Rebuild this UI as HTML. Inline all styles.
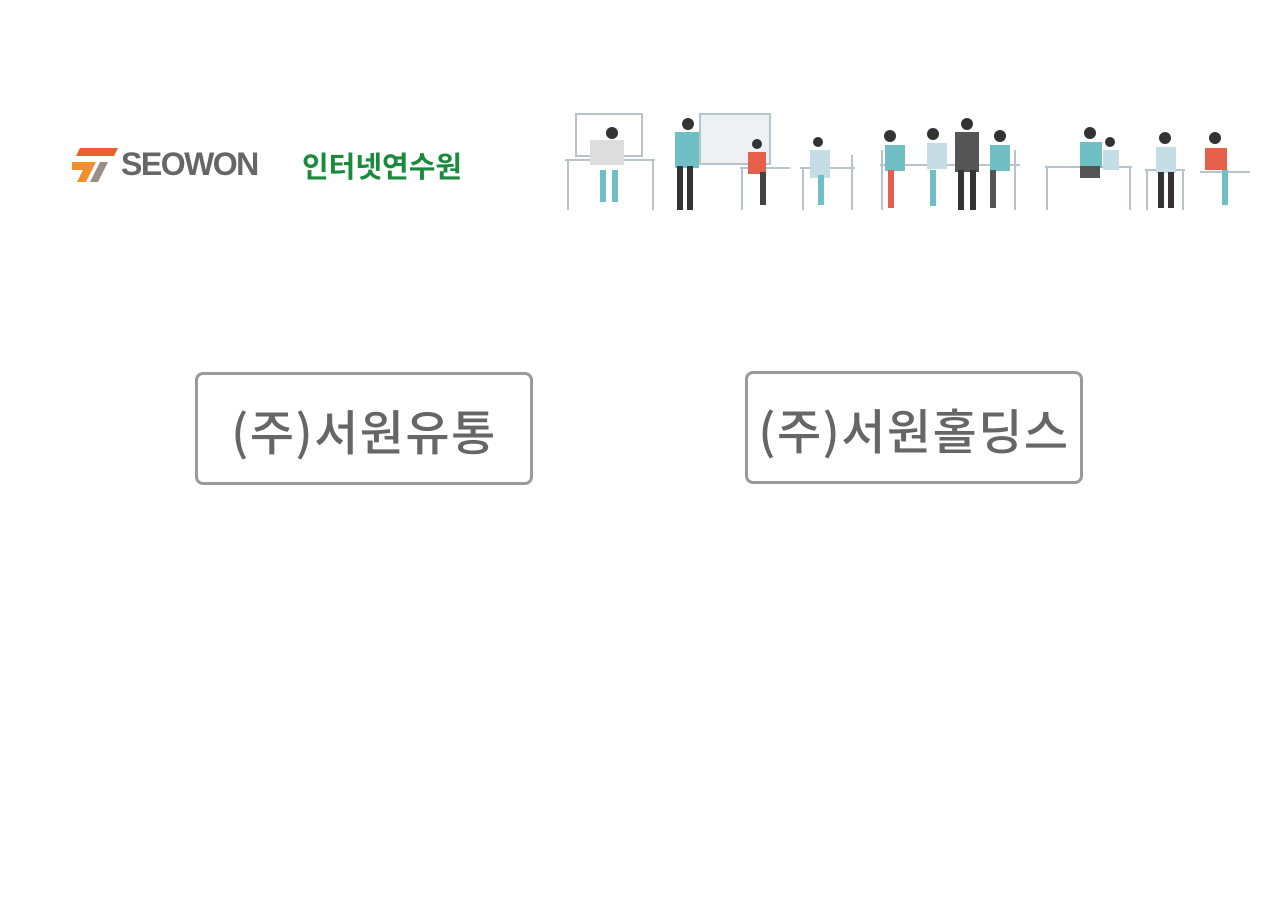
<!DOCTYPE html>
<html><head><meta charset="utf-8"><style>
body{margin:0;width:1280px;height:900px;background:#fff;position:relative;overflow:hidden;font-family:"Liberation Sans","Noto Sans CJK KR",sans-serif}
.box{position:absolute;width:332px;height:107px;border:3px solid #9a9a9a;border-radius:8px;display:flex;align-items:center;justify-content:center;font-size:48px;font-weight:500;color:#666;font-family:"Noto Sans CJK KR",sans-serif;letter-spacing:1.5px}
</style></head><body>
<svg style="position:absolute;left:72px;top:148px" width="50" height="36"><polygon points="8,0 46,0 42,8 4,8" fill="#e8602c"/><polygon points="0,14 24,14 14,34 5,34 11,22 0,22" fill="#f0902c"/><polygon points="28,14 36,14 26,34 18,34" fill="#9a8f87"/></svg>
<div style="position:absolute;left:121px;top:146px;font-size:32px;font-weight:bold;color:#666;letter-spacing:-1.5px">SEOWON</div>
<div style="position:absolute;left:302px;top:144px;font-size:29px;font-weight:bold;color:#1a8a3c;font-family:'Noto Sans CJK KR',sans-serif;letter-spacing:0px">인터넷연수원</div>
<svg style="position:absolute;left:560px;top:100px" width="710" height="120">
<g stroke="#b8c4cc" stroke-width="2" fill="none">
<rect x="16" y="14" width="66" height="42"/><rect x="140" y="14" width="70" height="50" fill="#eef1f3"/>
<line x1="5" y1="60" x2="95" y2="60"/><line x1="8" y1="60" x2="8" y2="110"/><line x1="93" y1="60" x2="93" y2="110"/>
<line x1="180" y1="68" x2="230" y2="68"/><line x1="182" y1="68" x2="182" y2="110"/>
<line x1="240" y1="68" x2="295" y2="68"/><line x1="243" y1="68" x2="243" y2="110"/><line x1="292" y1="55" x2="292" y2="110"/>
<line x1="320" y1="65" x2="460" y2="65"/><line x1="322" y1="50" x2="322" y2="110"/><line x1="455" y1="50" x2="455" y2="110"/>
<line x1="485" y1="67" x2="572" y2="67"/><line x1="487" y1="67" x2="487" y2="110"/><line x1="570" y1="67" x2="570" y2="110"/>
<line x1="585" y1="70" x2="625" y2="70"/><line x1="587" y1="70" x2="587" y2="110"/><line x1="623" y1="70" x2="623" y2="110"/>
<line x1="640" y1="72" x2="690" y2="72"/></g>
<g fill="#333"><circle cx="52" cy="33" r="6"/><circle cx="128" cy="24" r="6"/><circle cx="197" cy="44" r="5"/><circle cx="258" cy="42" r="5"/><circle cx="330" cy="36" r="6"/><circle cx="373" cy="34" r="6"/><circle cx="407" cy="24" r="6"/><circle cx="440" cy="36" r="6"/><circle cx="530" cy="33" r="6"/><circle cx="550" cy="42" r="5"/><circle cx="605" cy="38" r="6"/><circle cx="655" cy="38" r="6"/></g>
<g fill="#6fbfc4"><rect x="30" y="40" width="34" height="25" fill="#ddd"/><rect x="115" y="32" width="24" height="36"/><rect x="250" y="50" width="20" height="28" fill="#c5dde4"/><rect x="325" y="45" width="20" height="26"/><rect x="367" y="43" width="20" height="26" fill="#c5dde4"/><rect x="430" y="45" width="20" height="26"/><rect x="520" y="42" width="22" height="26"/><rect x="543" y="50" width="16" height="20" fill="#c5dde4"/><rect x="596" y="47" width="20" height="26" fill="#c5dde4"/><rect x="645" y="48" width="22" height="22" fill="#e5604c"/>
<rect x="40" y="70" width="6" height="32"/><rect x="52" y="70" width="6" height="32"/><rect x="258" y="75" width="6" height="30"/><rect x="370" y="70" width="6" height="36"/><rect x="662" y="70" width="6" height="35"/></g>
<rect x="188" y="52" width="18" height="22" fill="#e5604c"/><rect x="200" y="72" width="6" height="33" fill="#444"/><rect x="328" y="70" width="6" height="38" fill="#e5604c"/>
<rect x="395" y="32" width="24" height="40" fill="#555"/><rect x="398" y="70" width="6" height="40" fill="#333"/><rect x="410" y="70" width="6" height="40" fill="#333"/><rect x="117" y="66" width="6" height="44" fill="#333"/><rect x="127" y="66" width="6" height="44" fill="#333"/>
<rect x="430" y="70" width="6" height="38" fill="#555"/><rect x="520" y="66" width="20" height="12" fill="#555"/><rect x="598" y="72" width="6" height="36" fill="#333"/><rect x="608" y="72" width="6" height="36" fill="#333"/>
</svg>
<div class="box" style="left:195px;top:372px">(주)서원유통</div>
<div class="box" style="left:745px;top:371px">(주)서원홀딩스</div>
</body></html>
